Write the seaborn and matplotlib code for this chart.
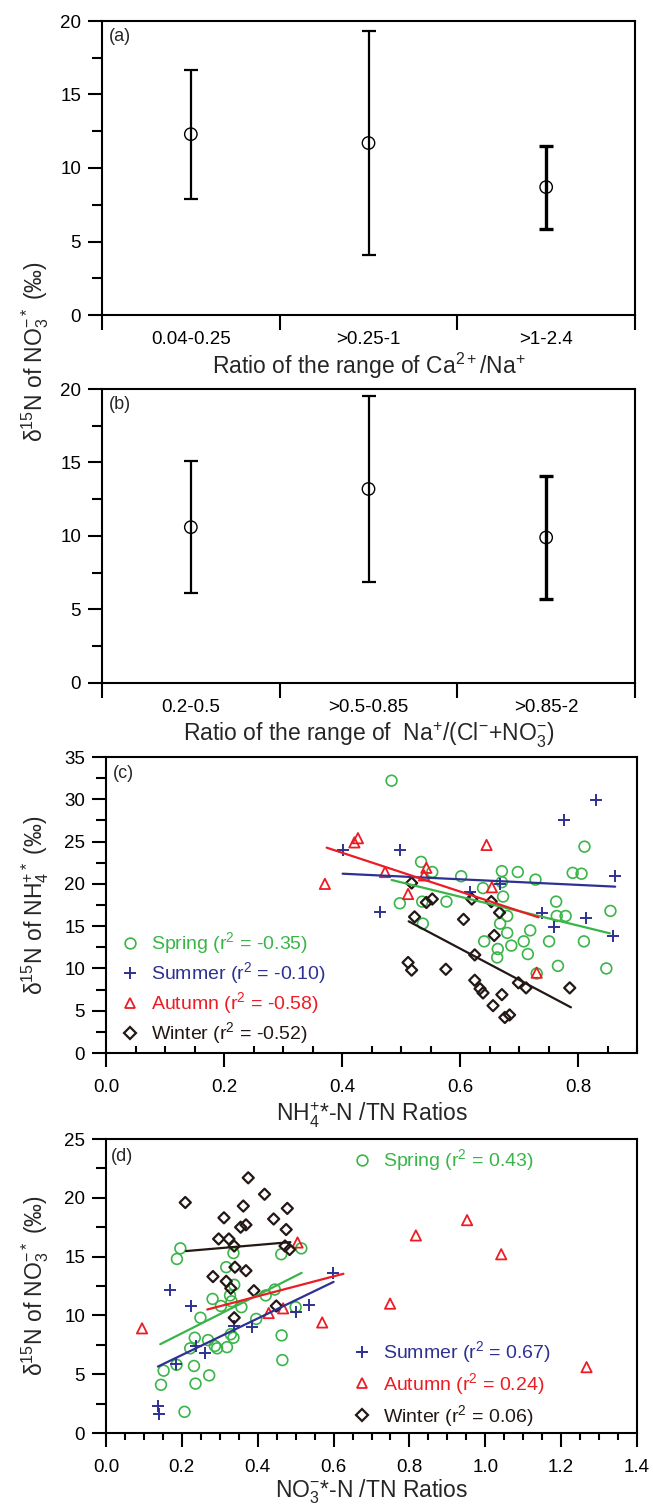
import matplotlib
matplotlib.use("Agg")
import matplotlib.pyplot as plt
from matplotlib.lines import Line2D
from matplotlib.ticker import MultipleLocator, FixedLocator, NullFormatter, FormatStrFormatter
import seaborn as sns
import numpy as np
import pandas as pd

# ---------------- data ----------------
cats_a = ["0.04-0.25", ">0.25-1", ">1-2.4"]
mean_a = [12.3, 11.7, 8.7]
low_a = [7.9, 4.1, 5.85]
high_a = [16.7, 19.3, 11.5]

cats_b = ["0.2-0.5", ">0.5-0.85", ">0.85-2"]
mean_b = [10.6, 13.2, 9.9]
low_b = [6.1, 6.9, 5.7]
high_b = [15.1, 19.55, 14.1]

seasons = ["Spring", "Summer", "Autumn", "Winter"]
r2_c = ["-0.35", "-0.10", "-0.58", "-0.52"]
r2_d = ["0.43", "0.67", "0.24", "0.06"]

c_spring_x = [0.484, 0.534, 0.553, 0.602, 0.498, 0.536, 0.537, 0.577, 0.639, 0.671, 0.698, 0.671,
              0.673, 0.728, 0.680, 0.668, 0.680, 0.641, 0.664, 0.663, 0.687, 0.708, 0.715, 0.719,
              0.751, 0.763, 0.764, 0.779, 0.766, 0.791, 0.806, 0.811, 0.810, 0.855, 0.848, 0.730]
c_spring_y = [32.2, 22.6, 21.4, 20.9, 17.7, 17.9, 15.3, 17.9, 19.5, 21.5, 21.4, 20.2,
              18.5, 20.5, 16.2, 15.3, 14.2, 13.2, 12.3, 11.3, 12.7, 13.2, 11.7, 14.5,
              13.2, 17.9, 16.2, 16.2, 10.3, 21.3, 21.2, 24.4, 13.2, 16.8, 10.0, 9.4]
c_summer_x = [0.401, 0.498, 0.464, 0.617, 0.668, 0.739, 0.759, 0.777, 0.831, 0.813, 0.862, 0.859]
c_summer_y = [24.0, 24.0, 16.7, 19.0, 20.0, 16.6, 14.9, 27.6, 29.9, 16.0, 20.9, 13.8]
c_autumn_x = [0.371, 0.421, 0.427, 0.473, 0.512, 0.539, 0.543, 0.645, 0.654, 0.730]
c_autumn_y = [20.0, 24.9, 25.4, 21.4, 18.8, 21.0, 21.9, 24.6, 19.6, 9.5]
c_winter_x = [0.518, 0.543, 0.553, 0.523, 0.606, 0.620, 0.653, 0.667, 0.658, 0.625, 0.512, 0.518,
              0.576, 0.625, 0.634, 0.639, 0.671, 0.656, 0.676, 0.684, 0.699, 0.712, 0.786]
c_winter_y = [20.1, 17.8, 18.2, 16.1, 15.8, 18.2, 17.9, 16.6, 13.9, 11.6, 10.7, 9.8,
              9.9, 8.6, 7.6, 7.1, 6.9, 5.6, 4.2, 4.5, 8.3, 7.7, 7.7]

d_spring_x = [0.196, 0.187, 0.336, 0.317, 0.338, 0.281, 0.303, 0.327, 0.331, 0.357, 0.249, 0.396,
              0.421, 0.445, 0.462, 0.515, 0.500, 0.463, 0.465, 0.234, 0.269, 0.222, 0.287, 0.293,
              0.319, 0.329, 0.336, 0.186, 0.232, 0.152, 0.272, 0.145, 0.236, 0.207]
d_spring_y = [15.7, 14.8, 15.3, 14.1, 12.6, 11.4, 10.8, 11.7, 11.2, 10.7, 9.8, 9.7,
              11.7, 12.2, 15.2, 15.7, 10.7, 8.3, 6.2, 8.1, 7.9, 7.2, 7.4, 7.2,
              7.3, 8.4, 8.1, 5.8, 5.7, 5.3, 4.9, 4.1, 4.2, 1.8]
d_summer_x = [0.169, 0.224, 0.237, 0.260, 0.184, 0.136, 0.141, 0.338, 0.384, 0.501, 0.535, 0.598]
d_summer_y = [12.2, 10.8, 7.4, 6.8, 5.9, 2.3, 1.6, 9.1, 9.0, 10.3, 10.9, 13.6]
d_autumn_x = [0.095, 0.429, 0.467, 0.505, 0.570, 0.749, 0.817, 0.952, 1.042, 1.267]
d_autumn_y = [8.9, 10.2, 10.6, 16.2, 9.4, 11.0, 16.8, 18.1, 15.2, 5.6]
d_winter_x = [0.209, 0.375, 0.418, 0.362, 0.478, 0.311, 0.442, 0.355, 0.369, 0.475, 0.297, 0.324,
              0.338, 0.472, 0.484, 0.340, 0.369, 0.282, 0.317, 0.329, 0.390, 0.449, 0.338]
d_winter_y = [19.6, 21.7, 20.3, 19.3, 19.1, 18.3, 18.2, 17.5, 17.7, 17.3, 16.5, 16.5,
              15.9, 15.9, 15.6, 14.1, 13.8, 13.3, 12.9, 12.3, 12.1, 10.8, 9.8]

# trend lines: (x start, x end, y start, y end) per season
trend_c = [(0.484, 0.854, 20.46, 14.15), (0.401, 0.863, 21.2, 19.67),
           (0.374, 0.733, 24.28, 16.04), (0.513, 0.788, 15.57, 5.40)]
trend_d = [(0.143, 0.516, 7.55, 13.62), (0.137, 0.600, 5.65, 12.85),
           (0.267, 0.626, 10.5, 13.54), (0.211, 0.486, 15.47, 16.23)]

# ---------------- style ----------------
sns.set_theme(style="ticks")
plt.rcParams["font.family"] = ["Liberation Sans", "DejaVu Sans"]
plt.rcParams["mathtext.fontset"] = "custom"
plt.rcParams["mathtext.rm"] = "Liberation Sans"
plt.rcParams["mathtext.it"] = "Liberation Sans:italic"
plt.rcParams["mathtext.bf"] = "Liberation Sans:bold"
plt.rcParams["mathtext.default"] = "regular"

GREEN = "#3AB54A"
BLUE = "#2E3192"
RED = "#ED1C24"
DARK = "#231815"
colors = [GREEN, BLUE, RED, DARK]
markers = ["o", "+", "^", "D"]
sizes = [60, 85, 55, 32]
mlw = [1.2, 1.4, 1.3, 1.6]

TICK_FS = 13.5
LABEL_FS = 16.5
LEG_FS = 14
SP_LW = 1.5

W, H = 653, 1507
fig = plt.figure(figsize=(W / 100, H / 100), dpi=100)


def add_ax(l, t, r, b):
    return fig.add_axes([l / W, 1 - b / H, (r - l) / W, (b - t) / H])


ax_a = add_ax(102, 21, 635, 315)
ax_b = add_ax(102, 389, 635, 683)
ax_c = add_ax(106, 757, 637, 1053)
ax_d = add_ax(106, 1139, 637, 1433)


def style_common(ax):
    for s in ax.spines.values():
        s.set_visible(True)
        s.set_linewidth(SP_LW)
        s.set_color("black")
    ax.tick_params(which="both", direction="out", width=SP_LW, colors="black",
                   labelsize=TICK_FS)
    ax.tick_params(which="major", length=10)
    ax.tick_params(axis="y", which="minor", length=7.5)
    ax.tick_params(axis="y", which="major", pad=5)
    ax.grid(False)


def range_panel(ax, cats, mean, low, high, tag, xlabel):
    pos = np.arange(len(cats)) + 0.5
    mean = np.asarray(mean, float)
    low = np.asarray(low, float)
    high = np.asarray(high, float)
    lws = [1.6, 1.6, 2.4]
    for p, m, lo, hi, lw in zip(pos, mean, low, high, lws):
        ax.errorbar([p], [m], yerr=[[m - lo], [hi - m]], fmt="none", ecolor="black",
                    elinewidth=lw, capsize=5, capthick=lw, zorder=2)
    df = pd.DataFrame({"pos": pos, "mean": mean})
    sns.scatterplot(data=df, x="pos", y="mean", marker="o", s=80, color="black", ax=ax,
                    zorder=3, legend=False)
    coll = ax.collections[-1]
    coll.set_facecolor("none")
    coll.set_edgecolor("black")
    coll.set_linewidth(1.0)
    style_common(ax)
    ax.set_xlim(0, 3)
    ax.set_ylim(0, 20)
    ax.xaxis.set_major_locator(FixedLocator([0, 1, 2, 3]))
    ax.xaxis.set_major_formatter(NullFormatter())
    ax.xaxis.set_minor_locator(FixedLocator(pos))
    ax.set_xticklabels(cats, minor=True)
    ax.tick_params(axis="x", which="minor", length=0, pad=11.5, labelsize=TICK_FS)
    ax.tick_params(axis="x", which="major", length=11)
    ax.yaxis.set_major_locator(MultipleLocator(5))
    ax.yaxis.set_minor_locator(MultipleLocator(2.5))
    ax.set_ylabel("")
    ax.set_xlabel(xlabel, fontsize=LABEL_FS)
    ax.xaxis.label.set_va("baseline")
    ax.xaxis.set_label_coords(0.5, -59 / 294)
    ax.text(7 / 533, 1 - 7 / 294, tag, transform=ax.transAxes, ha="left", va="top",
            fontsize=13)


range_panel(ax_a, cats_a, mean_a, low_a, high_a, "(a)",
            "Ratio of the range of Ca$^{2+}$/Na$^{+}$")
range_panel(ax_b, cats_b, mean_b, low_b, high_b, "(b)",
            "Ratio of the range of  Na$^{+}$/(Cl$^{-}$+NO$_3^{-}$)")

fig.text(42 / W, 1 - 352 / H, "δ$^{15}$N of NO$_3^{-*}$ (‰)", rotation=90,
         rotation_mode="anchor", ha="center", va="baseline", fontsize=LABEL_FS)


def scatter_panel(ax, xs_list, ys_list, trends):
    for xs, ys, mk, col, s, lw in zip(xs_list, ys_list, markers, colors, sizes, mlw):
        df = pd.DataFrame({"x": xs, "y": ys})
        sns.scatterplot(data=df, x="x", y="y", marker=mk, s=s, color=col, linewidth=lw,
                        ax=ax, zorder=3, legend=False)
        coll = ax.collections[-1]
        if mk != "+":
            coll.set_facecolor("none")
            coll.set_edgecolor(col)
            coll.set_linewidth(lw)
    for (x0, x1, y0, y1), col in zip(trends, colors):
        ax.plot([x0, x1], [y0, y1], color=col, lw=1.6, zorder=4)
    style_common(ax)
    ax.set_xlabel("")
    ax.set_ylabel("")


def make_handles():
    hs = []
    for mk, col, s, lw in zip(markers, colors, sizes, mlw):
        hs.append(Line2D([], [], linestyle="none", marker=mk, markersize=np.sqrt(s),
                         markerfacecolor="none", markeredgecolor=col, markeredgewidth=lw,
                         color=col))
    return hs


# ---------------- panel (c) ----------------
scatter_panel(ax_c, [c_spring_x, c_summer_x, c_autumn_x, c_winter_x],
              [c_spring_y, c_summer_y, c_autumn_y, c_winter_y], trend_c)
ax_c.set_xlim(0, 0.9)
ax_c.set_ylim(0, 35)
ax_c.xaxis.set_major_locator(MultipleLocator(0.2))
ax_c.xaxis.set_minor_locator(MultipleLocator(0.05))
ax_c.yaxis.set_major_locator(MultipleLocator(5))
ax_c.yaxis.set_minor_locator(MultipleLocator(2.5))
ax_c.xaxis.set_major_formatter(FormatStrFormatter("%.1f"))
ax_c.tick_params(axis="x", which="minor", direction="in", length=5)
ax_c.tick_params(axis="x", which="major", pad=9)
ax_c.set_xlabel("NH$_4^{+}$*-N /TN Ratios", fontsize=LABEL_FS)
ax_c.xaxis.label.set_va("baseline")
ax_c.xaxis.set_label_coords(0.5, -69 / 296)
ax_c.set_ylabel("δ$^{15}$N of NH$_4^{+*}$ (‰)", fontsize=LABEL_FS)
ax_c.yaxis.label.set_va("baseline")
ax_c.yaxis.set_label_coords(-(106 - 42) / 531, 0.5)
ax_c.text(7 / 531, 1 - 8 / 296, "(c)", transform=ax_c.transAxes, ha="left", va="top",
          fontsize=13)
hs = make_handles()
labels_c = [f"{s} (r$^2$ = {r})" for s, r in zip(seasons, r2_c)]
leg_c = ax_c.legend(hs, labels_c, loc="upper left", bbox_to_anchor=(0.027, 0.414),
                    frameon=False, fontsize=LEG_FS, handlelength=1.0, handletextpad=0.58,
                    labelspacing=0.21, borderpad=0, borderaxespad=0)
for t, col in zip(leg_c.get_texts(), colors):
    t.set_color(col)

# ---------------- panel (d) ----------------
scatter_panel(ax_d, [d_spring_x, d_summer_x, d_autumn_x, d_winter_x],
              [d_spring_y, d_summer_y, d_autumn_y, d_winter_y], trend_d)
ax_d.set_xlim(0, 1.4)
ax_d.set_ylim(0, 25)
ax_d.xaxis.set_major_locator(MultipleLocator(0.2))
ax_d.xaxis.set_minor_locator(MultipleLocator(0.05))
ax_d.yaxis.set_major_locator(MultipleLocator(5))
ax_d.yaxis.set_minor_locator(MultipleLocator(2.5))
ax_d.xaxis.set_major_formatter(FormatStrFormatter("%.1f"))
ax_d.tick_params(axis="x", which="minor", direction="out", length=5)
ax_d.tick_params(axis="x", which="major", pad=9)
ax_d.set_xlabel("NO$_3^{-}$*-N /TN Ratios", fontsize=LABEL_FS)
ax_d.xaxis.label.set_va("baseline")
ax_d.xaxis.set_label_coords(0.5, -65 / 294)
ax_d.set_ylabel("δ$^{15}$N of NO$_3^{-*}$ (‰)", fontsize=LABEL_FS)
ax_d.yaxis.label.set_va("baseline")
ax_d.yaxis.set_label_coords(-(106 - 42) / 531, 0.5)
ax_d.text(5 / 531, 1 - 9 / 294, "(d)", transform=ax_d.transAxes, ha="left", va="top",
          fontsize=13)
hs = make_handles()
labels_d = [f"{s} (r$^2$ = {r})" for s, r in zip(seasons, r2_d)]
leg_d1 = ax_d.legend(hs[:1], labels_d[:1], loc="upper left", bbox_to_anchor=(0.464, 0.971),
                     frameon=False, fontsize=LEG_FS, handlelength=1.0, handletextpad=0.58,
                     borderpad=0, borderaxespad=0)
leg_d1.get_texts()[0].set_color(colors[0])
ax_d.add_artist(leg_d1)
leg_d2 = ax_d.legend(hs[1:], labels_d[1:], loc="upper left", bbox_to_anchor=(0.464, 0.318),
                     frameon=False, fontsize=LEG_FS, handlelength=1.0, handletextpad=0.58,
                     labelspacing=0.3, borderpad=0, borderaxespad=0)
for t, col in zip(leg_d2.get_texts(), colors[1:]):
    t.set_color(col)

fig.savefig("out.png", dpi=100)
